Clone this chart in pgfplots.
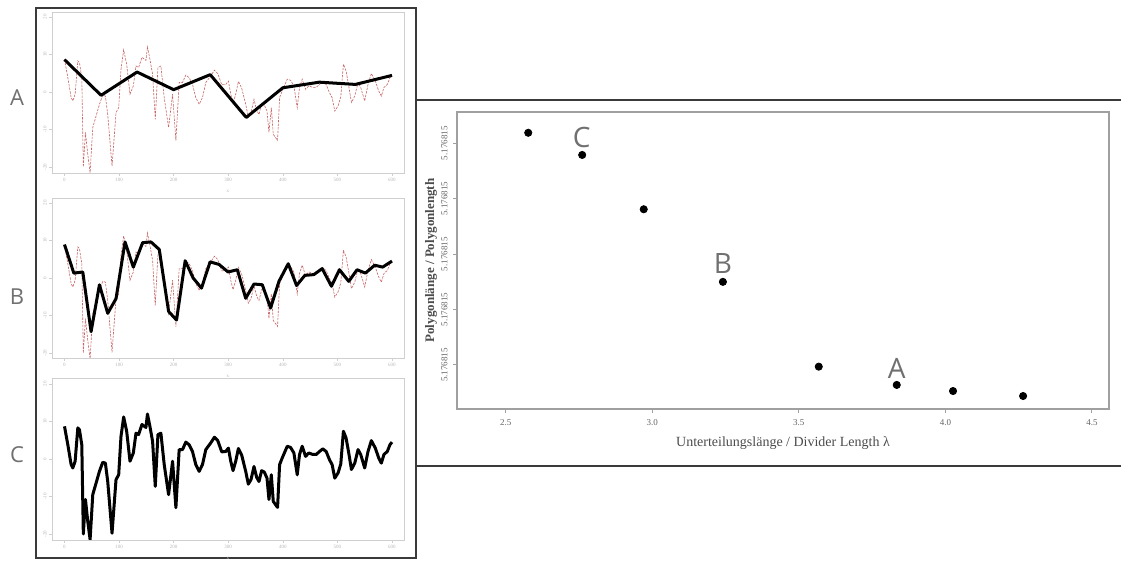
\documentclass[border=0pt]{standalone}
\usepackage{fontspec}
\setmainfont{Liberation Serif}
\newfontfamily\lettersf{Open Sans}
\usepackage{pgfplots}
\pgfplotsset{compat=1.18}
\usepackage{pgfplotstable}

\definecolor{framecol}{HTML}{3A3A3A}
\definecolor{redline}{HTML}{C86464}
\definecolor{boxgray}{HTML}{CFCFCF}
\definecolor{letgray}{HTML}{707070}
\definecolor{axgray}{HTML}{A0A0A0}

% underlying signal (red dashed) - also the fine polygon C
\pgfplotstableread{
x y
0 8.7
6.1 3.8
12.2 -1.5
15.2 -2.4
19.5 -0.6
24.4 8.3
27.4 7.8
31.7 3.8
34.5 -20.0
38.4 -10.8
42.6 -16.6
46.9 -21.5
51.8 -9.5
57.9 -6.4
64.0 -3.3
70.0 -0.9
74.9 -1.1
79.2 -6.0
87.1 -19.8
94.4 -5.5
99.3 -4.2
103.5 6.0
108.4 11.2
113.9 7.4
120.0 -0.6
126.1 1.6
131.0 6.9
135.8 6.5
141.9 9.2
149.2 8.4
152.0 12.0
156.5 8.7
161.4 4.7
166.3 -7.3
171.2 6.5
176.6 6.9
182.7 -1.5
190.7 -9.5
198.0 -0.6
204.1 -13.0
210.1 2.5
216.2 2.5
222.3 4.5
228.4 3.8
234.5 2.0
240.6 -1.5
246.7 -3.3
252.8 -1.5
258.9 2.5
268.0 4.3
274.7 5.8
280.8 4.9
288.1 1.9
295.4 2.0
300.3 2.9
304.6 -0.6
308.8 -3.1
313.7 -0.6
318.6 2.8
324.7 1.0
332.0 -3.3
336.8 -6.7
341.7 -5.5
347.2 -2.0
352.1 -4.9
356.3 -6.0
361.2 -3.1
366.1 -3.5
371.0 -5.1
374.6 -10.8
378.9 -4.2
382.5 -11.3
386.8 -12.2
390.4 -12.9
394.1 -1.5
399.0 0.3
408.1 3.4
414.2 3.1
420.3 1.6
426.4 -4.2
430.6 1.2
435.5 3.4
441.6 0.7
447.7 1.6
455.0 1.2
461.1 1.2
467.2 2.0
473.3 2.7
479.4 2.0
485.5 -0.2
490.3 -1.5
495.2 -5.1
501.3 -3.7
506.2 -1.3
511.0 7.4
515.9 5.6
520.8 1.6
525.7 -2.8
531.8 -1.1
537.8 2.5
542.7 1.2
550.0 -2.4
556.1 2.0
562.2 4.9
569.5 2.9
575.6 0.3
580.5 -1.1
585.3 1.2
591.4 2.0
596.3 3.8
600.0 4.5
}\redtab

\pgfplotstableread{
x y
0 8.6
67 -0.9
133 5.3
200 0.6
267 4.6
333 -6.8
400 1.1
467 2.6
533 2.0
600 4.4
}\polyA

\pgfplotstableread{
x y
0 8.9
17.1 1.3
33.5 1.6
48.7 -14.3
64.0 -1.8
79.2 -9.4
94.4 -5.5
110.9 9.6
126.1 2.9
143.1 9.4
158.4 9.6
173.6 7.6
190.7 -8.9
205.3 -11.2
221.1 4.6
235.7 0.0
251.0 -2.7
266.8 4.3
283.2 3.6
299.7 1.6
316.7 2.2
332.0 -5.4
347.2 -1.6
362.4 -1.8
377.6 -8.0
392.9 -0.9
409.9 3.8
425.2 -2.0
440.4 0.7
456.8 0.9
472.1 2.5
489.1 -2.2
503.7 2.2
520.8 -0.9
536.0 2.2
551.2 1.3
568.3 3.4
582.9 2.9
600.0 4.5
}\polyB

\pgfplotstableread{
x y
2.577 4.19
2.761 3.79
2.971 2.81
3.241 1.50
3.568 -0.03
3.834 -0.36
4.026 -0.47
4.265 -0.56
}\scatterdata

\pgfplotsset{
  smallpanel/.style={
    scale only axis, width=176pt,
    xmin=-22.9, xmax=622,
    axis line style={boxgray, line width=0.4pt},
    tick style={boxgray, line width=0.3pt},
    tick align=outside, major tick length=1.5pt,
    tick pos=left,
    xtick={0,100,...,600}, ytick={-20,-10,...,20},
    /pgf/number format/assume math mode=true,
    ticklabel style={font=\fontsize{2.5}{3}\selectfont, text=gray!55, inner sep=1pt},
    yticklabel style={rotate=90, anchor=south},
    xlabel={x}, xlabel style={font=\fontsize{2.5}{3}\selectfont, text=gray!55, at={(axis description cs:0.5,0)}, anchor=north, yshift=-5pt},
  },
}

\begin{document}
\begin{tikzpicture}
\fill[white] (0,0) rectangle (560.5pt,280.5pt);

% left frame
\draw[framecol, line width=1pt] (18pt,276.5pt) rectangle (208pt,1.5pt);
% right panel lines
\draw[framecol, line width=1.1pt] (208pt,230.5pt) -- (560.5pt,230.5pt);
\draw[framecol, line width=1.1pt] (208pt,47.5pt) -- (560.5pt,47.5pt);

% panel letters
\node[font=\lettersf\fontsize{11}{11}\selectfont, text=letgray] at (8.5pt,231.5pt) {A};
\node[font=\lettersf\fontsize{11}{11}\selectfont, text=letgray] at (8.5pt,132pt) {B};
\node[font=\lettersf\fontsize{11}{11}\selectfont, text=letgray] at (8.5pt,53pt) {C};

% panel A
\begin{axis}[smallpanel, at={(26pt,194pt)}, anchor=south west, height=80.5pt,
  ymin=-21.6, ymax=21.3]
\addplot[redline, line width=0.3pt, dash pattern=on 1.2pt off 0.6pt] table {\redtab};
\addplot[black, line width=1.5pt, line join=round] table {\polyA};
\end{axis}

% panel B
\begin{axis}[smallpanel, at={(26pt,101.5pt)}, anchor=south west, height=80pt,
  ymin=-21.3, ymax=21.3]
\addplot[redline, line width=0.3pt, dash pattern=on 1.2pt off 0.6pt] table {\redtab};
\addplot[black, line width=1.5pt, line join=round] table {\polyB};
\end{axis}

% panel C
\begin{axis}[smallpanel, at={(26pt,10.5pt)}, anchor=south west, height=81pt,
  ymin=-21.6, ymax=21.6]
\addplot[redline, line width=0.3pt, dash pattern=on 1.2pt off 0.6pt] table {\redtab};
\addplot[black, line width=1.5pt, line join=round] table {\redtab};
\end{axis}

% scatter panel
\begin{axis}[at={(228.5pt,76pt)}, anchor=south west, scale only axis,
  width=326pt, height=148.5pt,
  xmin=2.334, xmax=4.558, ymin=-0.794, ymax=4.565,
  axis line style={axgray, line width=0.8pt},
  tick style={axgray, line width=0.5pt},
  tick align=outside, major tick length=2pt, tick pos=left,
  xtick={2.5,3,3.5,4,4.5}, xticklabels={2.5,3.0,3.5,4.0,4.5},
  ytick={0,1,2,3,4},
  yticklabels={5.176815,5.176815,5.176815,5.176815,5.176815},
  ticklabel style={font=\fontsize{4.5}{5}\selectfont, text=gray!80!black},
  xticklabel style={anchor=center, yshift=-5pt},
  yticklabel style={rotate=90, anchor=south, inner sep=2.5pt},
  xlabel={Unterteilungslänge / Divider Length λ},
  ylabel={Polygonlänge / Polygonlength},
  xlabel style={font=\fontsize{7}{8}\selectfont, text=gray!60!black, at={(axis description cs:0.5,-0.115)}, anchor=center},
  ylabel style={font=\bfseries\fontsize{6.5}{7}\selectfont, text=gray!60!black, at={(axis description cs:-0.04,0.5)}, anchor=center},
]
\addplot[only marks, mark=*, mark size=1.8pt, black] table {\scatterdata};
\node[font=\lettersf\fontsize{14}{14}\selectfont, text=letgray] at (axis cs:2.759,4.11) {C};
\node[font=\lettersf\fontsize{14}{14}\selectfont, text=letgray] at (axis cs:3.241,1.84) {B};
\node[font=\lettersf\fontsize{14}{14}\selectfont, text=letgray] at (axis cs:3.834,-0.054) {A};
\end{axis}

\pgfresetboundingbox
\useasboundingbox (0,0) rectangle (560.5pt,280.5pt);
\end{tikzpicture}
\end{document}
